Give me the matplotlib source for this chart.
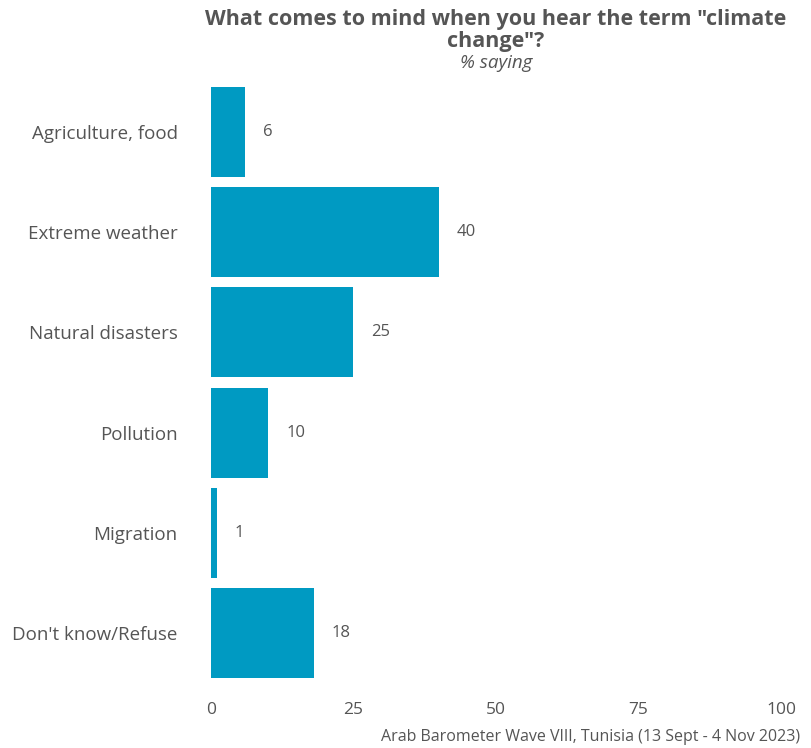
import matplotlib
matplotlib.use("Agg")
import matplotlib.pyplot as plt

categories = ["Agriculture, food", "Extreme weather", "Natural disasters",
              "Pollution", "Migration", "Don't know/Refuse"]
values = [6, 40, 25, 10, 1, 18]
x_ticks = [0, 25, 50, 75, 100]

bar_color = "#009AC2"
text_color = "#555555"

plt.rcParams["font.family"] = ["Open Sans", "DejaVu Sans"]

fig = plt.figure(figsize=(8.12, 7.48), dpi=100)
ax = fig.add_axes([211 / 812, 65 / 748, 570 / 812, 601 / 748])

ypos = list(range(len(categories)))
ax.barh(ypos, values, height=0.9, color=bar_color)
for y, v in zip(ypos, values):
    ax.annotate(str(v), (v, y), xytext=(13, 0), textcoords="offset points",
                ha="left", va="center", fontsize=12, color=text_color)

ax.set_xlim(0, 100)
ax.set_ylim(len(categories) - 0.5, -0.5)
ax.set_yticks(ypos)
ax.set_yticklabels(categories, fontsize=13.5, color=text_color)
ax.set_xticks(x_ticks)
ax.set_xticklabels([str(t) for t in x_ticks], fontsize=12.5, color=text_color)
ax.tick_params(length=0)
ax.tick_params(axis="y", pad=24)
ax.tick_params(axis="x", pad=14)
for s in ax.spines.values():
    s.set_visible(False)

fig.text(496 / 812, 1 - 19 / 748, 'What comes to mind when you hear the term "climate',
         ha="center", va="center", fontsize=15.5, fontweight="bold", color=text_color)
fig.text(496 / 812, 1 - 41 / 748, 'change"?',
         ha="center", va="center", fontsize=15.5, fontweight="bold", color=text_color)
fig.text(496 / 812, 1 - 63 / 748, "% saying", ha="center", va="center",
         fontsize=13.5, style="italic", color=text_color)
fig.text(800 / 812, 1 - 737 / 748, "Arab Barometer Wave VIII, Tunisia (13 Sept - 4 Nov 2023)",
         ha="right", va="center", fontsize=11.5, color=text_color)

fig.savefig("out.png", dpi=100)
